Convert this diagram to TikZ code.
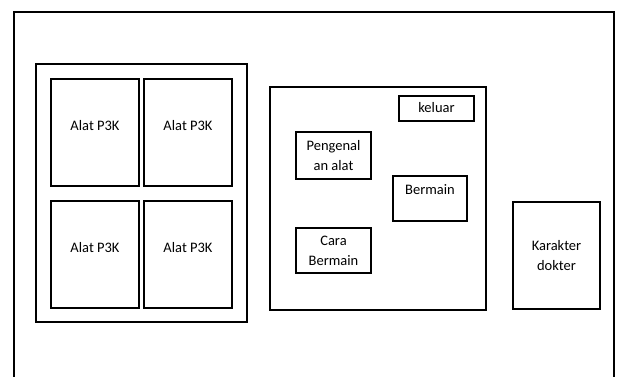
\documentclass[tikz,border=0pt]{standalone}
\usepackage{fontspec}
\setmainfont{Carlito}
\usetikzlibrary{positioning}

\begin{document}
\begin{tikzpicture}[
  x=1pt, y=-1pt,
  every node/.style={font=\fontsize{14.5}{20}\selectfont},
  frame/.style={rectangle,draw,line width=2pt,inner sep=0pt},
  alat/.style={frame,minimum width=88pt,minimum height=107pt,text height=10pt,text depth=14pt},
  menu/.style={frame,minimum width=75pt,minimum height=45pt,align=center},
]
\useasboundingbox (0,0) rectangle (621,376);

% Screen
\draw[line width=2pt] (14,378) -- (14,11.5) -- (614,11.5) -- (614,378);

% Tools
\node[frame,minimum width=211.5pt,minimum height=258pt] (tools) at (141.25,192.5) {};
\node[alat] (alat1) at (95,132.5) {Alat P3K};
\node[alat] (alat2) at (188,132.5) {Alat P3K};
\node[alat] (alat3) at (95,254.5) {Alat P3K};
\node[alat] (alat4) at (188,254.5) {Alat P3K};

% Menu
\node[frame,minimum width=216pt,minimum height=223pt] (menu) at (378,198.5) {};
\node[frame,minimum width=75pt,minimum height=25pt] (keluar) at (436.5,108) {keluar};
\node[menu,minimum height=47pt] (kenal) at (333.5,155.5) {Pengenal\\an alat};
\node[menu,minimum width=74pt,text height=10pt,text depth=18pt] (main) at (430,198.5) {Bermain};
\node[menu] (cara) at (333.5,250.5) {Cara\\Bermain};

% Character
\node[frame,minimum width=87pt,minimum height=107pt,align=center] (dokter) at (556.5,255.5) {Karakter\\dokter};

\end{tikzpicture}
\end{document}
